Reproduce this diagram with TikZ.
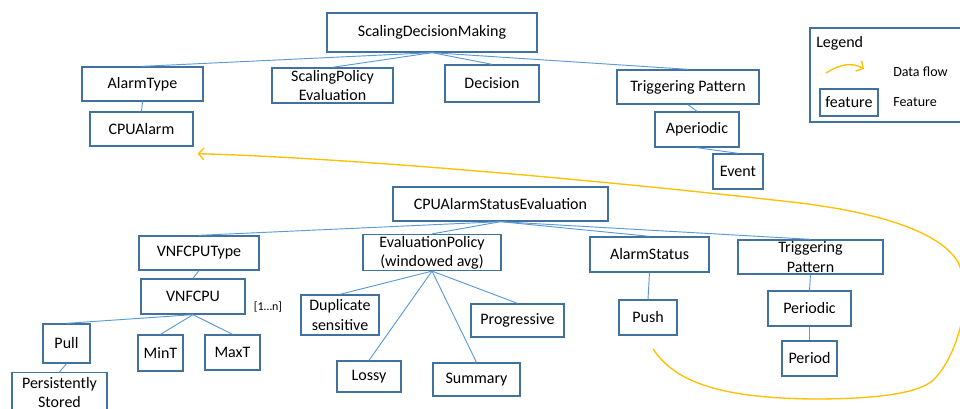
\documentclass[tikz,border=0pt]{standalone}
\usepackage{fontspec}
\setmainfont{Carlito}
\usetikzlibrary{arrows.meta}
\definecolor{boxline}{HTML}{41719C}
\definecolor{linkline}{HTML}{5B9BD5}
\definecolor{flow}{HTML}{FFC000}
\tikzset{
  feat/.style={draw=boxline, line width=1pt, fill=white, inner sep=1pt, align=center,
               font=\fontsize{12}{14.5}\selectfont},
  sz/.style 2 args={minimum width=#1*0.75pt, minimum height=#2*0.75pt},
  link/.style={draw=linkline, line width=0.7pt},
  dataflow/.style={draw=flow, line width=1pt, -{Straight Barb[length=4pt,width=9pt]}},
  legtext/.style={anchor=west, inner sep=0pt, font=\fontsize{10.5}{12}\selectfont},
}
\begin{document}
\begin{tikzpicture}[x=0.75pt, y=-0.75pt]
\clip (0,0) rectangle (960,409);
\fill[white] (0,0) rectangle (960,409);

% ---------- upper tree ----------
\node[feat, sz={210}{39}] (sdm) at (432,32.5) {ScalingDecisionMaking};
\node[feat, sz={121}{34}] (alarmtype) at (142.5,84) {AlarmType};
\node[feat, sz={103}{34}] (cpualarm) at (141.5,129) {CPUAlarm};
\node[feat, sz={121}{35}] (spe) at (332.5,85.5) {ScalingPolicy\\Evaluation};
\node[feat, sz={94}{37}] (decision) at (492,83.5) {Decision};
\node[feat, sz={142}{34}] (trigA) at (688,87) {Triggering Pattern};
\node[feat, sz={84}{35}] (aperiodic) at (697,129.5) {Aperiodic};
\node[feat, sz={50}{35}] (event) at (738,171.5) {Event};

% ---------- legend ----------
\node[draw=boxline, line width=1pt, sz={160}{94}] (legend) at (890,75) {};
\node[anchor=west, inner sep=0pt, font=\fontsize{12}{14}\selectfont] (legtitle) at (816,43) {Legend};
\coordinate (lgA) at (826,73);
\coordinate (lgB) at (864,69);
\draw[dataflow] (lgA) .. controls (840,64) and (852,62) .. (lgB);
\node[legtext] (legflow) at (893,72) {Data flow};
\node[feat, sz={58}{27}] (legfeat) at (849,102.5) {feature};
\node[legtext] (legfeattext) at (893,102) {Feature};

% ---------- lower tree ----------
\node[feat, sz={215}{34}] (case) at (500.5,204) {CPUAlarmStatusEvaluation};
\node[feat, sz={120}{34}] (vnftype) at (199,253) {VNFCPUType};
\node[feat, sz={104}{35}] (vnfcpu) at (193,296.5) {VNFCPU};
\node[inner sep=0pt, font=\fontsize{9}{10}\selectfont] (mult) at (268,307) {[1…n]};
\node[feat, sz={47}{39}] (pull) at (66.5,343.5) {Pull};
\node[feat, sz={95}{40}, anchor=north] (pstored) at (59.5,372) {Persistently\\Stored};
\node[feat, sz={45}{36}] (mint) at (160.5,353) {MinT};
\node[feat, sz={55}{35}] (maxt) at (232.5,352.5) {MaxT};
\node[feat, sz={138}{35}] (evalpol) at (432,252.5) {EvaluationPolicy\\(windowed avg)};
\node[feat, sz={78}{40}] (dup) at (340,315) {Duplicate\\sensitive};
\node[feat, sz={64}{31}] (lossy) at (369,376.5) {Lossy};
\node[feat, sz={87}{33}] (summary) at (476.5,379.5) {Summary};
\node[feat, sz={93}{33}] (progressive) at (517.5,320.5) {Progressive};
\node[feat, sz={119}{35}] (alarmstatus) at (649.5,254.5) {AlarmStatus};
\node[feat, sz={58}{35}] (push) at (648,317.5) {Push};
\node[feat, sz={145}{34}] (trigB) at (810.5,257) {Triggering\\Pattern};
\node[feat, sz={83}{35}] (periodic) at (809.5,308.5) {Periodic};
\node[feat, sz={55}{35}] (period) at (809.5,358.5) {Period};

% ---------- feature links ----------
\foreach \c in {alarmtype, spe, decision, trigA}
  \draw[link] (sdm.south) -- (\c.north);
\draw[link] (alarmtype.south) -- (cpualarm.north);
\draw[link] (trigA.south) -- (aperiodic.north);
\draw[link] (aperiodic.south) -- (event.north);
\foreach \c in {vnftype, evalpol, alarmstatus, trigB}
  \draw[link] (case.south) -- (\c.north);
\draw[link] (vnftype.south) -- (vnfcpu.north);
\foreach \c in {pull, mint, maxt}
  \draw[link] (vnfcpu.south) -- (\c.north);
\draw[link] (pull.south) -- (pstored.north);
\foreach \c in {dup, lossy, summary, progressive}
  \draw[link] (evalpol.south) -- (\c.north);
\draw[link] (alarmstatus.south) -- (push.north);
\draw[link] (trigB.south) -- (periodic.north);
\draw[link] (periodic.south) -- (period.north);

% ---------- data flow from Push back to CPUAlarm ----------
\coordinate (flowstart) at (653,349);
\coordinate (flowend) at ([shift={(4,7)}]cpualarm.south east);
\draw[dataflow] (flowstart)
  .. controls (675,382) and (720,398) .. (813,399)
  .. controls (880,399) and (915,393) .. (931,382)
  .. controls (955,362) and (975,300) .. (958,262)
  .. controls (940,232) and (880,213) .. (800,203)
  .. controls (600,180) and (350,158) .. (flowend);
\end{tikzpicture}
\end{document}
